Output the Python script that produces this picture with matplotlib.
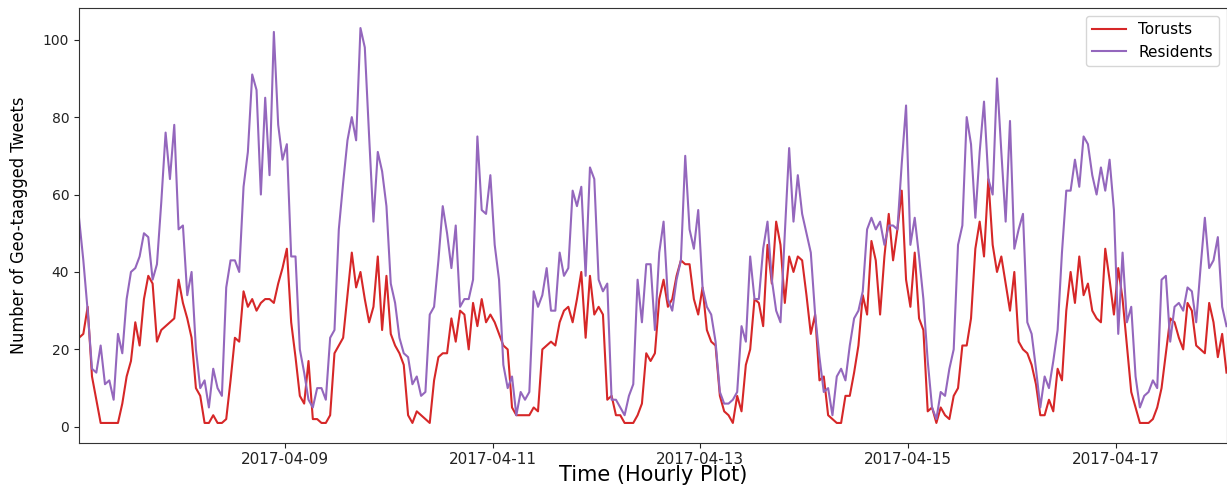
import matplotlib
matplotlib.use('Agg')
import matplotlib.pyplot as plt
from matplotlib import font_manager
import pandas as pd

# hourly counts of geo-tagged tweets
start_time = '2017-04-07 00:30'

tourists = [
    23, 24, 31, 13, 7, 1, 1, 1, 1, 1, 6, 13, 17, 27, 21, 33, 39, 37, 22, 25,
    26, 27, 28, 38, 32, 28, 23, 10, 8, 1, 1, 3, 1, 1, 2, 12, 23, 22, 35, 31,
    33, 30, 32, 33, 33, 32, 37, 41, 46, 27, 18, 8, 6, 17, 2, 2, 1, 1, 3, 19,
    21, 23, 34, 45, 36, 40, 33, 27, 31, 44, 25, 39, 24, 21, 19, 16, 3, 1, 4, 3,
    2, 1, 12, 18, 19, 19, 28, 22, 30, 29, 20, 32, 26, 33, 27, 29, 27, 24, 21, 20,
    5, 3, 3, 3, 3, 5, 4, 20, 21, 22, 21, 27, 30, 31, 27, 33, 40, 23, 39, 29,
    31, 29, 7, 8, 3, 3, 1, 1, 1, 3, 6, 19, 17, 19, 33, 38, 31, 33, 39, 43,
    42, 42, 33, 29, 36, 25, 22, 21, 8, 4, 3, 1, 8, 4, 16, 20, 33, 32, 26, 47,
    37, 53, 47, 32, 44, 40, 44, 43, 34, 24, 29, 12, 13, 3, 2, 1, 1, 8, 8, 14,
    21, 34, 29, 48, 43, 29, 44, 55, 43, 51, 61, 38, 31, 45, 28, 25, 4, 5, 1, 5,
    3, 2, 8, 10, 21, 21, 28, 46, 53, 44, 64, 47, 40, 44, 37, 30, 40, 22, 20, 19,
    16, 11, 3, 3, 7, 4, 15, 12, 30, 40, 32, 44, 34, 37, 30, 28, 27, 46, 38, 29,
    41, 33, 21, 9, 5, 1, 1, 1, 2, 5, 10, 19, 28, 27, 23, 20, 32, 30, 21, 20,
    19, 32, 27, 18, 24, 14,
]

residents = [
    54, 43, 30, 15, 14, 21, 11, 12, 7, 24, 19, 33, 40, 41, 44, 50, 49, 38, 42, 58,
    76, 64, 78, 51, 52, 34, 40, 20, 10, 12, 5, 15, 10, 8, 36, 43, 43, 40, 62, 71,
    91, 87, 60, 85, 65, 102, 78, 69, 73, 44, 44, 20, 14, 7, 5, 10, 10, 7, 23, 25,
    51, 63, 74, 80, 74, 103, 98, 75, 53, 71, 66, 57, 37, 32, 23, 19, 18, 11, 13, 8,
    9, 29, 31, 43, 57, 50, 41, 52, 31, 33, 33, 38, 75, 56, 55, 65, 47, 38, 16, 10,
    13, 3, 9, 7, 9, 35, 31, 34, 41, 30, 30, 45, 39, 41, 61, 57, 62, 39, 67, 64,
    38, 35, 37, 7, 7, 5, 3, 8, 11, 38, 27, 42, 42, 25, 45, 53, 33, 30, 38, 43,
    70, 51, 46, 56, 36, 31, 29, 22, 9, 6, 6, 7, 9, 26, 22, 44, 33, 33, 46, 53,
    38, 30, 27, 50, 72, 53, 65, 55, 50, 45, 29, 18, 9, 10, 3, 13, 15, 12, 21, 28,
    30, 35, 51, 54, 51, 53, 47, 52, 52, 51, 68, 83, 47, 54, 44, 33, 17, 5, 2, 9,
    8, 15, 20, 47, 52, 80, 73, 54, 71, 84, 64, 60, 90, 71, 53, 79, 46, 51, 55, 27,
    24, 15, 5, 13, 10, 17, 25, 45, 61, 61, 69, 62, 75, 73, 65, 60, 67, 61, 69, 56,
    24, 45, 27, 31, 13, 5, 8, 9, 12, 10, 38, 39, 22, 31, 32, 30, 36, 35, 27, 41,
    54, 41, 43, 49, 31, 26,
]

tick_labels = ['2017-04-09', '2017-04-11', '2017-04-13', '2017-04-15', '2017-04-17']

times = pd.date_range(start_time, periods=len(residents), freq='h')

# the y label in the original is a condensed face; use one if installed
fonts = font_manager.fontManager.ttflist
names = {f.name for f in fonts}
condensed = [f for f in fonts if f.name == 'DejaVu Sans' and 'ondensed' in str(f.stretch)]
if 'Liberation Sans Narrow' in names:
    ylab_kw = dict(family='Liberation Sans Narrow', fontsize=16)
elif condensed:
    ylab_kw = dict(family='DejaVu Sans', fontstretch='condensed', fontsize=13)
else:
    ylab_kw = dict(family='DejaVu Sans', fontsize=12)

fig = plt.figure(figsize=(12.27, 4.87), dpi=100)
ax = fig.add_axes([79 / 1227, 1 - 442.7 / 487, 1147.5 / 1227, 434.4 / 487])

ax.plot(times, tourists, color='#d62728', lw=1.5, label='Torusts')
ax.plot(times, residents, color='#9467bd', lw=1.5, label='Residents')

ax.set_xlim(times[0], times[-1])
ax.set_xticks(pd.to_datetime(tick_labels))
ax.set_xticklabels(tick_labels)
ax.tick_params(axis='x', labelsize=11, colors='#222222')
ax.tick_params(axis='y', labelsize=10, colors='#222222')

ax.set_xlabel('Time (Hourly Plot)', fontsize=15)
ax.xaxis.set_label_coords(0.5, -0.052)
ax.set_ylabel('Number of Geo-taagged Tweets', **ylab_kw)
ax.yaxis.set_label_coords(-0.0444, 0.5)

for s in ax.spines.values():
    s.set_color('#333333')

ax.legend(loc='upper right', fontsize=11, handlelength=2.2)

fig.savefig('out.png', dpi=100)
